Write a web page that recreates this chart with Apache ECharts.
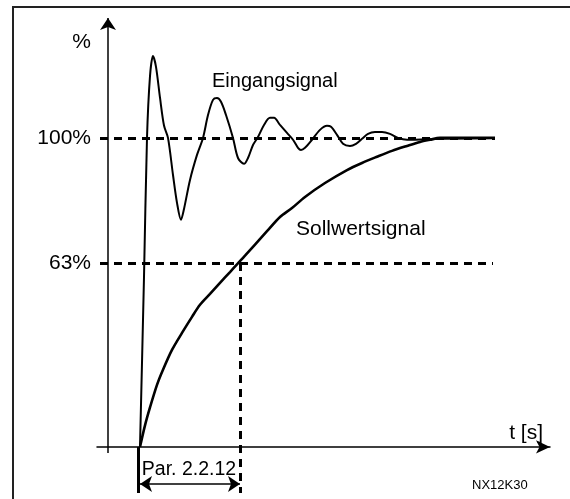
<!DOCTYPE html>
<html>
<head>
<meta charset="utf-8">
<script src="https://cdn.jsdelivr.net/npm/echarts@6/dist/echarts.min.js"></script>
<style>
html,body{margin:0;padding:0;background:#fff;}
#chart{width:570px;height:499px;}
</style>
</head>
<body>
<div id="chart"></div>
<script>
// Time in units of the time constant (Par. 2.2.12), signal in %
const eingangT = [0,0.04,0.07,0.10,0.13,0.16,0.20,0.24,0.28,0.33,0.37,0.41,0.44,0.50,0.57,0.63,0.68,0.73,0.77,0.81,0.86,0.93,0.98,1.04,1.08,1.13,1.18,1.24,1.30,1.34,1.40,1.47,1.53,1.58,1.61,1.65,1.72,1.80,1.87,1.91,1.97,2.03,2.10,2.16,2.22,2.28,2.35,2.42,2.50,2.58,2.67,3.00,3.55];
const eingangY = [0,55,100,120,126.5,123,113,104,100,88,79,73.5,77,86.4,94.5,100,107.4,112.3,112.9,111.7,107.4,100,93.5,91.6,93.5,97.7,100.3,104.2,106.5,106.5,104.2,101.6,99.4,96.8,96.1,96.8,99.4,102.6,103.9,103.6,101.0,98.1,97.4,98.1,99.7,101.3,101.9,101.9,101.3,100,99.4,99.7,100];

const sollT = [0,0.05,0.10,0.17,0.23,0.32,0.42,0.52,0.60,0.70,0.80,0.90,0.97,1.05,1.15,1.27,1.40,1.52,1.65,1.85,2.07,2.22,2.37,2.52,2.67,2.80,2.90,3.00,3.55];
const sollY = [0,7,12.8,20.1,25.0,31.4,36.9,42.1,46.0,49.5,53.1,56.6,59.1,61.9,65.5,69.8,74.4,77.3,80.9,85.4,89.6,91.9,93.9,95.8,97.4,98.7,99.4,100,100];

const levelValues = [100, 59.5];           // positions of the 100% and 63% reference lines
const levelLabels = ['100%', '63%'];
const percentLabelValue = 131;              // position of the "%" axis title
const tauT = 1.0;                           // time constant (Par. 2.2.12)
const levelEndT = [3.55, 3.53];

const tMin = -0.43, tMax = 4.10;
const yMin = -14.9, yMax = 138.8;
const yAxisT = -0.32;

const FONT = 'Liberation Sans, Arial, sans-serif';

function pairs(xs, ys){ return xs.map((x,i)=>[x, ys[i]]); }

const labelMap = {};
levelValues.forEach((v,i)=>{ labelMap[v] = levelLabels[i]; });
labelMap[percentLabelValue] = '%';

const chart = echarts.init(document.getElementById('chart'), null, {renderer:'canvas'});
chart.setOption({
  animation: false,
  backgroundColor: '#fff',
  grid: {left: 97, right: 20, top: 18, bottom: 6, containLabel: false},
  xAxis: {
    type: 'value', min: tMin, max: tMax,
    axisLine: {show: true, onZero: true, symbol: ['none','arrow'], symbolSize: [10,14], symbolOffset: [0, 0],
      lineStyle: {color: '#000', width: 1.5}},
    axisTick: {show: false}, axisLabel: {show: false}, splitLine: {show: false},
    name: 't [s]', nameLocation: 'end', nameGap: -7,
    nameTextStyle: {fontFamily: FONT, fontSize: 21, color: '#000', align: 'right', verticalAlign: 'bottom', padding: [0,0,3,0]}
  },
  yAxis: {
    type: 'value', min: yMin, max: yMax,
    axisLine: {show: false}, axisTick: {show: false}, splitLine: {show: false},
    axisLabel: {show: true, customValues: [levelValues[1], levelValues[0], percentLabelValue],
      formatter: v => labelMap[v] || '', fontFamily: FONT, fontSize: 21, color: '#000', margin: 6}
  },
  graphic: [
    {type: 'line', shape: {x1: 13, y1: 7, x2: 13, y2: 499}, style: {stroke: '#222', lineWidth: 2}},
    {type: 'line', shape: {x1: 12, y1: 7, x2: 570, y2: 7}, style: {stroke: '#222', lineWidth: 2}},
    {type: 'text', left: 472, top: 479, style: {text: 'NX12K30', font: '13px ' + FONT, fill: '#000'}}
  ],
  series: [
    {
      name: 'Eingangsignal', type: 'line', data: pairs(eingangT, eingangY),
      showSymbol: false, smooth: 0.3, silent: true,
      lineStyle: {color: '#000', width: 2},
      markPoint: {
        symbol: 'circle', symbolSize: 0, silent: true,
        data: [{coord: [0.72, 118.1], label: {show: true, position: 'right', distance: 0,
          formatter: 'Eingangsignal', fontFamily: FONT, fontSize: 20, color: '#000'}}]
      }
    },
    {
      name: 'Sollwertsignal', type: 'line', data: pairs(sollT, sollY),
      showSymbol: false, smooth: 0.3, silent: true,
      lineStyle: {color: '#000', width: 2.6},
      markPoint: {
        symbol: 'circle', symbolSize: 0, silent: true,
        data: [
          {coord: [1.56, 70.4], label: {show: true, position: 'right', distance: 0,
            formatter: 'Sollwertsignal', fontFamily: FONT, fontSize: 21, color: '#000'}},
          {coord: [tauT/2 - 0.01, -7.4], label: {show: true, position: 'inside',
            formatter: 'Par. 2.2.12', fontFamily: FONT, fontSize: 19.5, color: '#000'}}
        ]
      },
      markLine: {
        silent: true, label: {show: false}, emphasis: {disabled: true},
        data: [
          // vertical axis with arrow
          [{coord: [yAxisT, -1.94], symbol: 'none', lineStyle: {type: 'solid', width: 1.5, color: '#000'}},
           {coord: [yAxisT, yMax], symbol: 'arrow', symbolSize: 12}],
          // reference levels
          [{coord: [-0.40, levelValues[0]], symbol: 'none', lineStyle: {type: [8,6], width: 3, color: '#000'}},
           {coord: [levelEndT[0], levelValues[0]], symbol: 'none'}],
          [{coord: [-0.40, levelValues[1]], symbol: 'none', lineStyle: {type: [8,6], width: 3, color: '#000'}},
           {coord: [levelEndT[1], levelValues[1]], symbol: 'none'}],
          // time constant marker
          [{coord: [tauT, levelValues[1]], symbol: 'none', lineStyle: {type: [8,6], width: 3, color: '#000'}},
           {coord: [tauT, yMin], symbol: 'none'}],
          [{coord: [-0.02, 0], symbol: 'none', lineStyle: {type: 'solid', width: 3, color: '#000'}},
           {coord: [-0.02, yMin], symbol: 'none'}],
          [{coord: [0, -12], symbol: 'arrow', symbolSize: 12, lineStyle: {type: 'solid', width: 1.5, color: '#000'}},
           {coord: [tauT, -12], symbol: 'arrow', symbolSize: 12}]
        ]
      }
    }
  ]
});
</script>
</body>
</html>
